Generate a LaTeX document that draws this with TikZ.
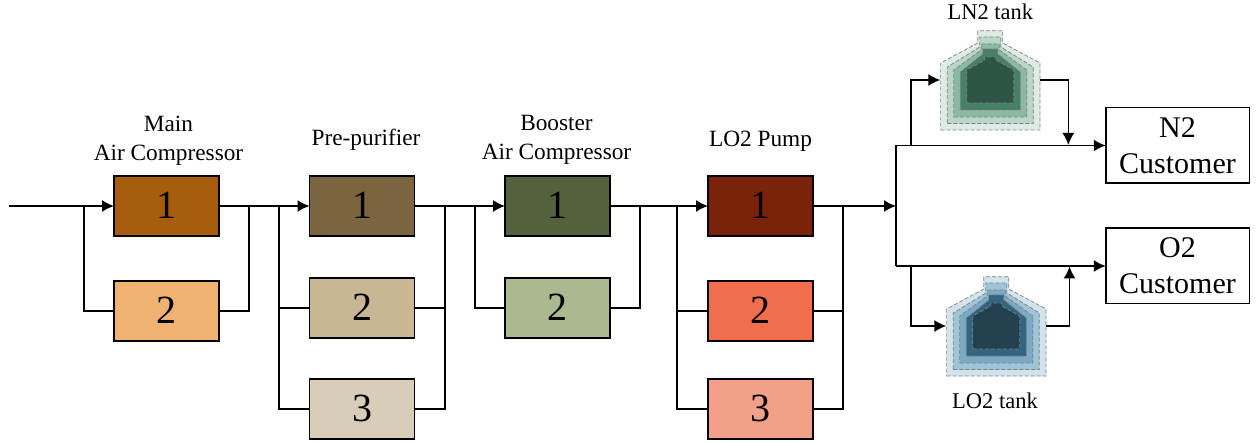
\documentclass[tikz,border=0pt]{standalone}
\usepackage{fontspec}
\setmainfont{Liberation Serif}
\usetikzlibrary{arrows.meta,positioning}

\definecolor{mac1}{HTML}{A65E0E}
\definecolor{mac2}{HTML}{EFB272}
\definecolor{pre1}{HTML}{7A6540}
\definecolor{pre2}{HTML}{C8B695}
\definecolor{pre3}{HTML}{D8CDB6}
\definecolor{bac1}{HTML}{53623C}
\definecolor{bac2}{HTML}{AAB990}
\definecolor{pump1}{HTML}{7B220A}
\definecolor{pump2}{HTML}{F06E4C}
\definecolor{pump3}{HTML}{F3A088}
\definecolor{gtank1}{HTML}{DFEBE5}
\definecolor{gtank2}{HTML}{BAD6C8}
\definecolor{gtank3}{HTML}{8DB9A4}
\definecolor{gtank4}{HTML}{478069}
\definecolor{gtank5}{HTML}{2D5546}
\definecolor{btank1}{HTML}{D3E3EC}
\definecolor{btank2}{HTML}{A0C4D8}
\definecolor{btank3}{HTML}{7CAAC4}
\definecolor{btank4}{HTML}{326580}
\definecolor{btank5}{HTML}{22414F}

\tikzset{
	unit box/.style={draw,line width=1.5pt,minimum width=105pt,minimum height=60pt,inner sep=0pt,outer sep=0pt,text depth=2pt,font=\fontsize{40}{40}\selectfont},
	customer box/.style={draw,line width=1.5pt,minimum width=143.5pt,minimum height=75.5pt,inner sep=0pt,outer sep=0pt,align=center,font=\fontsize{30}{36}\selectfont},
	stage label/.style={align=center,inner sep=0pt,font=\fontsize{23.3}{29}\selectfont},
	tank node/.style={inner sep=0pt,outer sep=0pt,minimum width=100pt,minimum height=100pt},
	wire/.style={line width=1.5pt},
	flow/.style={line width=1.5pt,-{Latex[length=12pt,width=12pt]}},
	tank layer/.style={draw=gray,line width=.7pt,dash pattern=on 4pt off 2pt}
}

% nested outlines of one tank, #1 = colour prefix, (#2,#3) = centre
\newcommand{\tanklayers}[3]{
	\foreach \w/\s/\n/\q/\t/\b/\c in {49.7/-17/12.5/-37/-49.3/50/1,43/-13/10.5/-33/-43/43.5/2,36.5/-10/9/-30/-36/37/3,30/-8/7.5/-26/-31/30/4,23.5/-10/5.5/-20/-23/23/5}{
		\fill[#1tank\c,tank layer] (#2-\w,#3+\b) -- (#2+\w,#3+\b) -- (#2+\w,#3+\s) -- (#2+\n,#3+\q) -- (#2+\n,#3+\t) -- (#2-\n,#3+\t) -- (#2-\n,#3+\q) -- (#2-\w,#3+\s) -- cycle;
	}
}

\begin{document}
\begin{tikzpicture}[x=1pt,y=-1pt]
	\useasboundingbox (0,0) rectangle (1257,443);
	
	\node[unit box,fill=mac1] (mac1) at (166.5,206) {1};
	\node[unit box,fill=mac2] (mac2) at (166.5,311) {2};
	\node[unit box,fill=pre1] (pre1) at (362,206) {1};
	\node[unit box,fill=pre2] (pre2) at (362,308) {2};
	\node[unit box,fill=pre3] (pre3) at (362,409) {3};
	\node[unit box,fill=bac1] (bac1) at (557.5,206) {1};
	\node[unit box,fill=bac2] (bac2) at (557.5,308) {2};
	\node[unit box,fill=pump1] (pump1) at (760.5,206) {1};
	\node[unit box,fill=pump2] (pump2) at (760.5,311) {2};
	\node[unit box,fill=pump3] (pump3) at (760.5,409) {3};
	
	\node[customer box] (n2) at (1177.5,145.5) {N2\\Customer};
	\node[customer box] (o2) at (1177.5,266) {O2\\Customer};
	
	\tanklayers{g}{990.3}{80}
	\tanklayers{b}{996.3}{326}
	\node[tank node] (lntank) at (990.3,80) {};
	\node[tank node] (lotank) at (996.3,326) {};
	
	\node[stage label] (maclabel) at (168.5,141) {Main\\Air Compressor};
	\node[stage label] (prelabel) at (366,139.5) {Pre-purifier};
	\node[stage label] (baclabel) at (556.5,140) {Booster\\Air Compressor};
	\node[stage label] (pumplabel) at (760.5,141.5) {LO2 Pump};
	\node[stage label,font=\fontsize{22.5}{27}\selectfont] (lnlabel) at (990.3,11.5) {LN2 tank};
	\node[stage label,font=\fontsize{22.5}{27}\selectfont] (lolabel) at (995,401) {LO2 tank};
	
	\coordinate (in) at (9,206);
	\coordinate (a1) at (84,206);
	\coordinate (a2) at (249,206);
	\coordinate (b1) at (279,206);
	\coordinate (b2) at (445,206);
	\coordinate (c1) at (475,206);
	\coordinate (c2) at (640,206);
	\coordinate (d1) at (677,206);
	\coordinate (d2) at (843,206);
	\coordinate (bus) at (896,206);
	\coordinate (bustop) at (896,145.5);
	\coordinate (busbot) at (896,266);
	\coordinate (lnup) at (911,145.5);
	\coordinate (lndown) at (1068.3,145);
	\coordinate (lodown) at (911,266);
	\coordinate (loup) at (1069.5,266.5);
	
	\draw[flow] (in) to (mac1);
	\draw[flow] (mac1) to (pre1);
	\draw[flow] (pre1) to (bac1);
	\draw[flow] (bac1) to (pump1);
	\draw[flow] (pump1) to (bus);
	
	\draw[wire] (a1) |- (mac2);
	\draw[wire] (mac2) -| (a2);
	\draw[wire] (b1) |- (pre2);
	\draw[wire] (b1) |- (pre3);
	\draw[wire] (pre2) -| (b2);
	\draw[wire] (pre3) -| (b2);
	\draw[wire] (c1) |- (bac2);
	\draw[wire] (bac2) -| (c2);
	\draw[wire] (d1) |- (pump2);
	\draw[wire] (d1) |- (pump3);
	\draw[wire] (pump2) -| (d2);
	\draw[wire] (pump3) -| (d2);
	
	\draw[wire] (bustop) -- (busbot);
	\draw[flow] (bustop) -- (n2);
	\draw[flow] (busbot) -- (o2);
	
	\draw[flow] (lnup) |- (lntank.west);
	\draw[flow] (lntank.east) -| (lndown);
	\draw[flow] (lodown) |- (lotank.west);
	\draw[flow] (lotank.east) -| (loup);
\end{tikzpicture}
\end{document}
